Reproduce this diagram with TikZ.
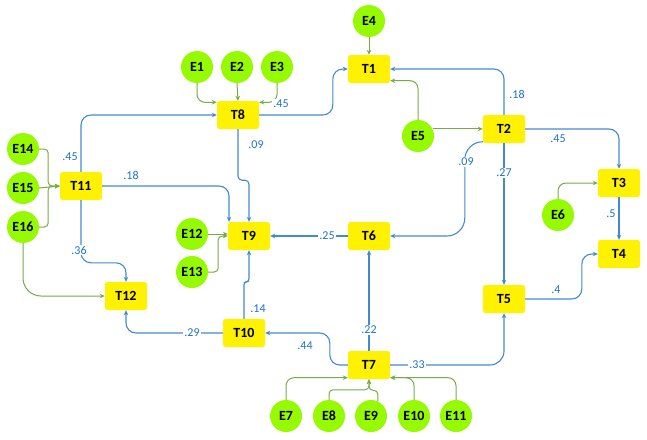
\documentclass[tikz,border=0pt]{standalone}
\usepackage{fontspec}
\setmainfont{Carlito}
\usetikzlibrary{arrows.meta}
\definecolor{pathBlue}{RGB}{66,138,208}
\definecolor{labelBlue}{RGB}{30,115,200}
\definecolor{pathGreen}{RGB}{122,170,72}
\definecolor{circleGreen}{RGB}{150,250,0}
\begin{document}
\begin{tikzpicture}
[x=1pt,y=-1pt,
  arrowDecorate/.style={-{Stealth[length=5pt,width=4.5pt]},line width=1.1pt,draw=pathBlue,rounded corners=10pt},%
  errorDecorate/.style={-{Stealth[length=5pt,width=4.5pt]},line width=1pt,draw=pathGreen,rounded corners=8pt},%
  boxDecorate/.style={shape=rectangle,rounded corners=2.5pt,fill=yellow,minimum width=42pt,minimum height=28pt,inner sep=0pt,font=\fontsize{14}{16}\selectfont\bfseries},%
  nodeDecorate/.style={shape=circle,fill=circleGreen,minimum size=32pt,inner sep=0pt,font=\fontsize{14}{16}\selectfont\bfseries},%
  weightDecorate/.style={text=labelBlue,fill=white,inner sep=1pt,font=\fontsize{12}{14}\selectfont}]
\useasboundingbox (0,0) rectangle (647,439);
%% boxes
\foreach \nodename/\x/\y in {T1/369/69, T2/504/129, T3/619/183, T4/619/254, T5/504/299, T6/369/236,
  T7/369/365, T8/238/115, T9/249/236, T10/244/333, T11/81/186, T12/126/296}
{
  \node (\nodename) at (\x,\y) [boxDecorate] {\nodename};
}
%% circles
\foreach \nodename/\x/\y in {E1/197/67, E2/237/67, E3/277/67, E4/369/21, E5/418/136, E6/558/215,
  E7/286/416, E8/329/416, E9/371/416, E10/414/416, E11/456/416, E12/192/234, E13/192/272,
  E14/23/149, E15/23/188, E16/23/227}
{
  \node (\nodename) at (\x,\y) [nodeDecorate] {\nodename};
}
%% straight edges
\foreach \startnode/\endnode in {T2.south/T5.north, T3.south/T4.north, T7.north/T6.south, T6.west/T9.east}
{
  \draw[arrowDecorate] (\startnode) -- (\endnode);
}
\foreach \startnode/\endnode in {E2.south/T8.north, E4.south/T1.north, E15.east/T11.west}
{
  \draw[errorDecorate] (\startnode) -- (\endnode);
}
%% routed edges
\draw[arrowDecorate] (T8.east) -| ([xshift=-15pt]T1.west) -- (T1.west);
\draw[arrowDecorate] (T2.north) |- (T1.east);
\draw[arrowDecorate] (T2.east) -| (T3.north);
\draw[arrowDecorate,rounded corners=18pt] ([yshift=1.5pt]T2.south west) -- ++(-18,0) |- (T6.east);
\draw[arrowDecorate] (T5.east) -| ([xshift=-16pt]T4.west) -- (T4.west);
\draw[arrowDecorate,rounded corners=14pt] (T7.east) -| (T5.south);
\draw[arrowDecorate] (T7.west) -- ++(-18,0) |- (T10.east);
\draw[arrowDecorate,rounded corners=3pt] (T10.north) -- ++(0,-37) -| (T9.south);
\draw[arrowDecorate] (T10.west) -| (T12.south);
\draw[arrowDecorate,rounded corners=4pt] (T8.south) -- ++(0,51) -| (T9.north);
\draw[arrowDecorate] (T11.east) -| ([xshift=-20pt]T9.north);
\draw[arrowDecorate] (T11.north) |- (T8.west);
\draw[arrowDecorate] (T11.south) |- ([yshift=19pt]T12.north) -- (T12.north);
%% error edges
\draw[errorDecorate] (E1.south) |- ([yshift=-1.5pt]T8.north west);
\draw[errorDecorate] (E3.south) |- ([yshift=-1.5pt]T8.north east);
\draw[errorDecorate] (E5.26) -- (E5.26 -| T2.west);
\draw[errorDecorate] (E5.north) |- ([yshift=2.5pt]T1.south east);
\draw[errorDecorate] (E6.north) |- (T3.west);
\draw[errorDecorate] (E7.north) |- ([yshift=1.5pt]T7.south west);
\draw[errorDecorate,rounded corners=4pt] (E8.north) -- ++(0,-10) -| (T7.south);
\draw[errorDecorate,rounded corners=4pt] (E9.65) -- ++(0,-11) -| (T7.south);
\draw[errorDecorate] (E10.north) |- ([yshift=1.5pt]T7.south east);
\draw[errorDecorate] (E11.north) |- ([yshift=1.5pt]T7.south east);
\draw[errorDecorate] (E12.east) -- (E12.east -| T9.west);
\draw[errorDecorate,rounded corners=4pt] (E13.east) -- ++(10,0) |- (T9.west);
\draw[errorDecorate,rounded corners=4pt] (E14.east) -- ++(9,0) |- (T11.west);
\draw[errorDecorate,rounded corners=4pt] (E16.east) -- ++(9,0) |- (T11.west);
\draw[errorDecorate,rounded corners=18pt] (E16.south) |- (T12.west);
%% weights
\foreach \wname/\x/\y/\wtext in {w81/281/104/.45, w21/517/94/.18, w23/558/139/.45, w26/466/162/.09,
  w25/504/173/.27, w34/611/214/.5, w54/556/290/.4, w75/417/365/.33, w76/369/330/.22,
  w710/305/346/.44, w109/258/309/.14, w1012/192/333/.29, w69/327/236/.25, w89/256/145/.09,
  w119/131/175/.18, w118/70/157/.45, w1112/79/250/.36}
{
  \node (\wname) at (\x,\y) [weightDecorate] {\wtext};
}
\end{tikzpicture}
\end{document}
